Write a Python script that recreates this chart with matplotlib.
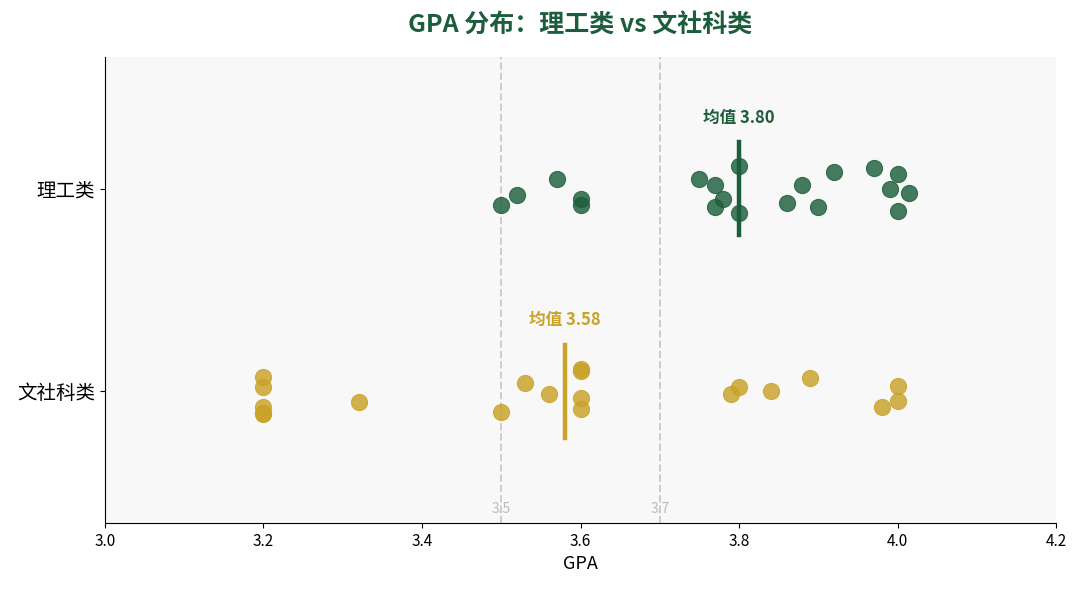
import numpy as np
import matplotlib.pyplot as plt

plt.rcParams['font.family'] = ['Noto Sans CJK SC', 'DejaVu Sans']

# 数据
groups = ['理工类', '文社科类']
gpa_sci = [3.50, 3.52, 3.57, 3.60, 3.60, 3.75, 3.77, 3.78, 3.77, 3.80,
           3.80, 3.86, 3.88, 3.90, 3.92, 3.97, 4.00, 3.99, 4.015, 4.00]
jit_sci = [0.082, 0.033, -0.05, 0.05, 0.078, -0.048, -0.02, 0.05, 0.088, -0.11,
           0.12, 0.072, -0.02, 0.088, -0.083, -0.10, -0.075, 0.0, 0.02, 0.11]
gpa_art = [3.20, 3.20, 3.20, 3.20, 3.20, 3.32, 3.50, 3.53, 3.56, 3.60,
           3.60, 3.60, 3.60, 3.79, 3.80, 3.84, 3.89, 3.98, 4.00, 4.00]
jit_art = [-0.072, -0.023, 0.075, 0.111, 0.105, 0.052, 0.10, -0.043, 0.015, -0.108,
           -0.100, 0.034, 0.088, 0.013, -0.02, 0.0, -0.067, 0.077, -0.026, 0.048]
ref_lines = [3.5, 3.7]

green = '#1c5e3b'
gold = '#c9a227'

fig = plt.figure(figsize=(10.8, 5.95), dpi=100)
ax = fig.add_axes([0.0972, 0.121, 0.8806, 0.7832])
ax.set_facecolor('#f8f8f8')

for v in ref_lines:
    ax.axvline(v, color='#cccccc', ls='--', lw=1.4, zorder=1)
    ax.text(v, 1.58, f'{v}', color='#bbbbbb', fontsize=10, ha='center', va='center')

series = [(gpa_sci, jit_sci, green), (gpa_art, jit_art, gold)]
for i, (g, j, col) in enumerate(series):
    ax.scatter(g, i + np.array(j), s=135, color=col, alpha=0.82,
               edgecolors=col, linewidths=0.8, zorder=3)
    m = np.mean(g)
    ax.plot([m, m], [i - 0.23, i + 0.23], color=col, lw=3.2, zorder=4)
    ax.text(m, i - 0.35, f'均值 {m:.2f}', color=col, fontsize=12,
            fontweight='bold', ha='center', va='center')

ax.set_ylim(1.65, -0.65)
ax.set_xlim(3.0, 4.2)
ax.set_yticks([0, 1])
ax.set_yticklabels(groups, fontsize=14)
ax.set_xticks(np.arange(3.0, 4.21, 0.2))
ax.set_xticklabels([f'{t:.1f}' for t in np.arange(3.0, 4.21, 0.2)], fontsize=11)
ax.set_xlabel('GPA', fontsize=13)
ax.spines['top'].set_visible(False)
ax.spines['right'].set_visible(False)

fig.suptitle('GPA 分布：理工类 vs 文社科类', x=0.537, y=0.977, fontsize=18,
             fontweight='bold', color=green)

fig.savefig('out.png', dpi=100)
